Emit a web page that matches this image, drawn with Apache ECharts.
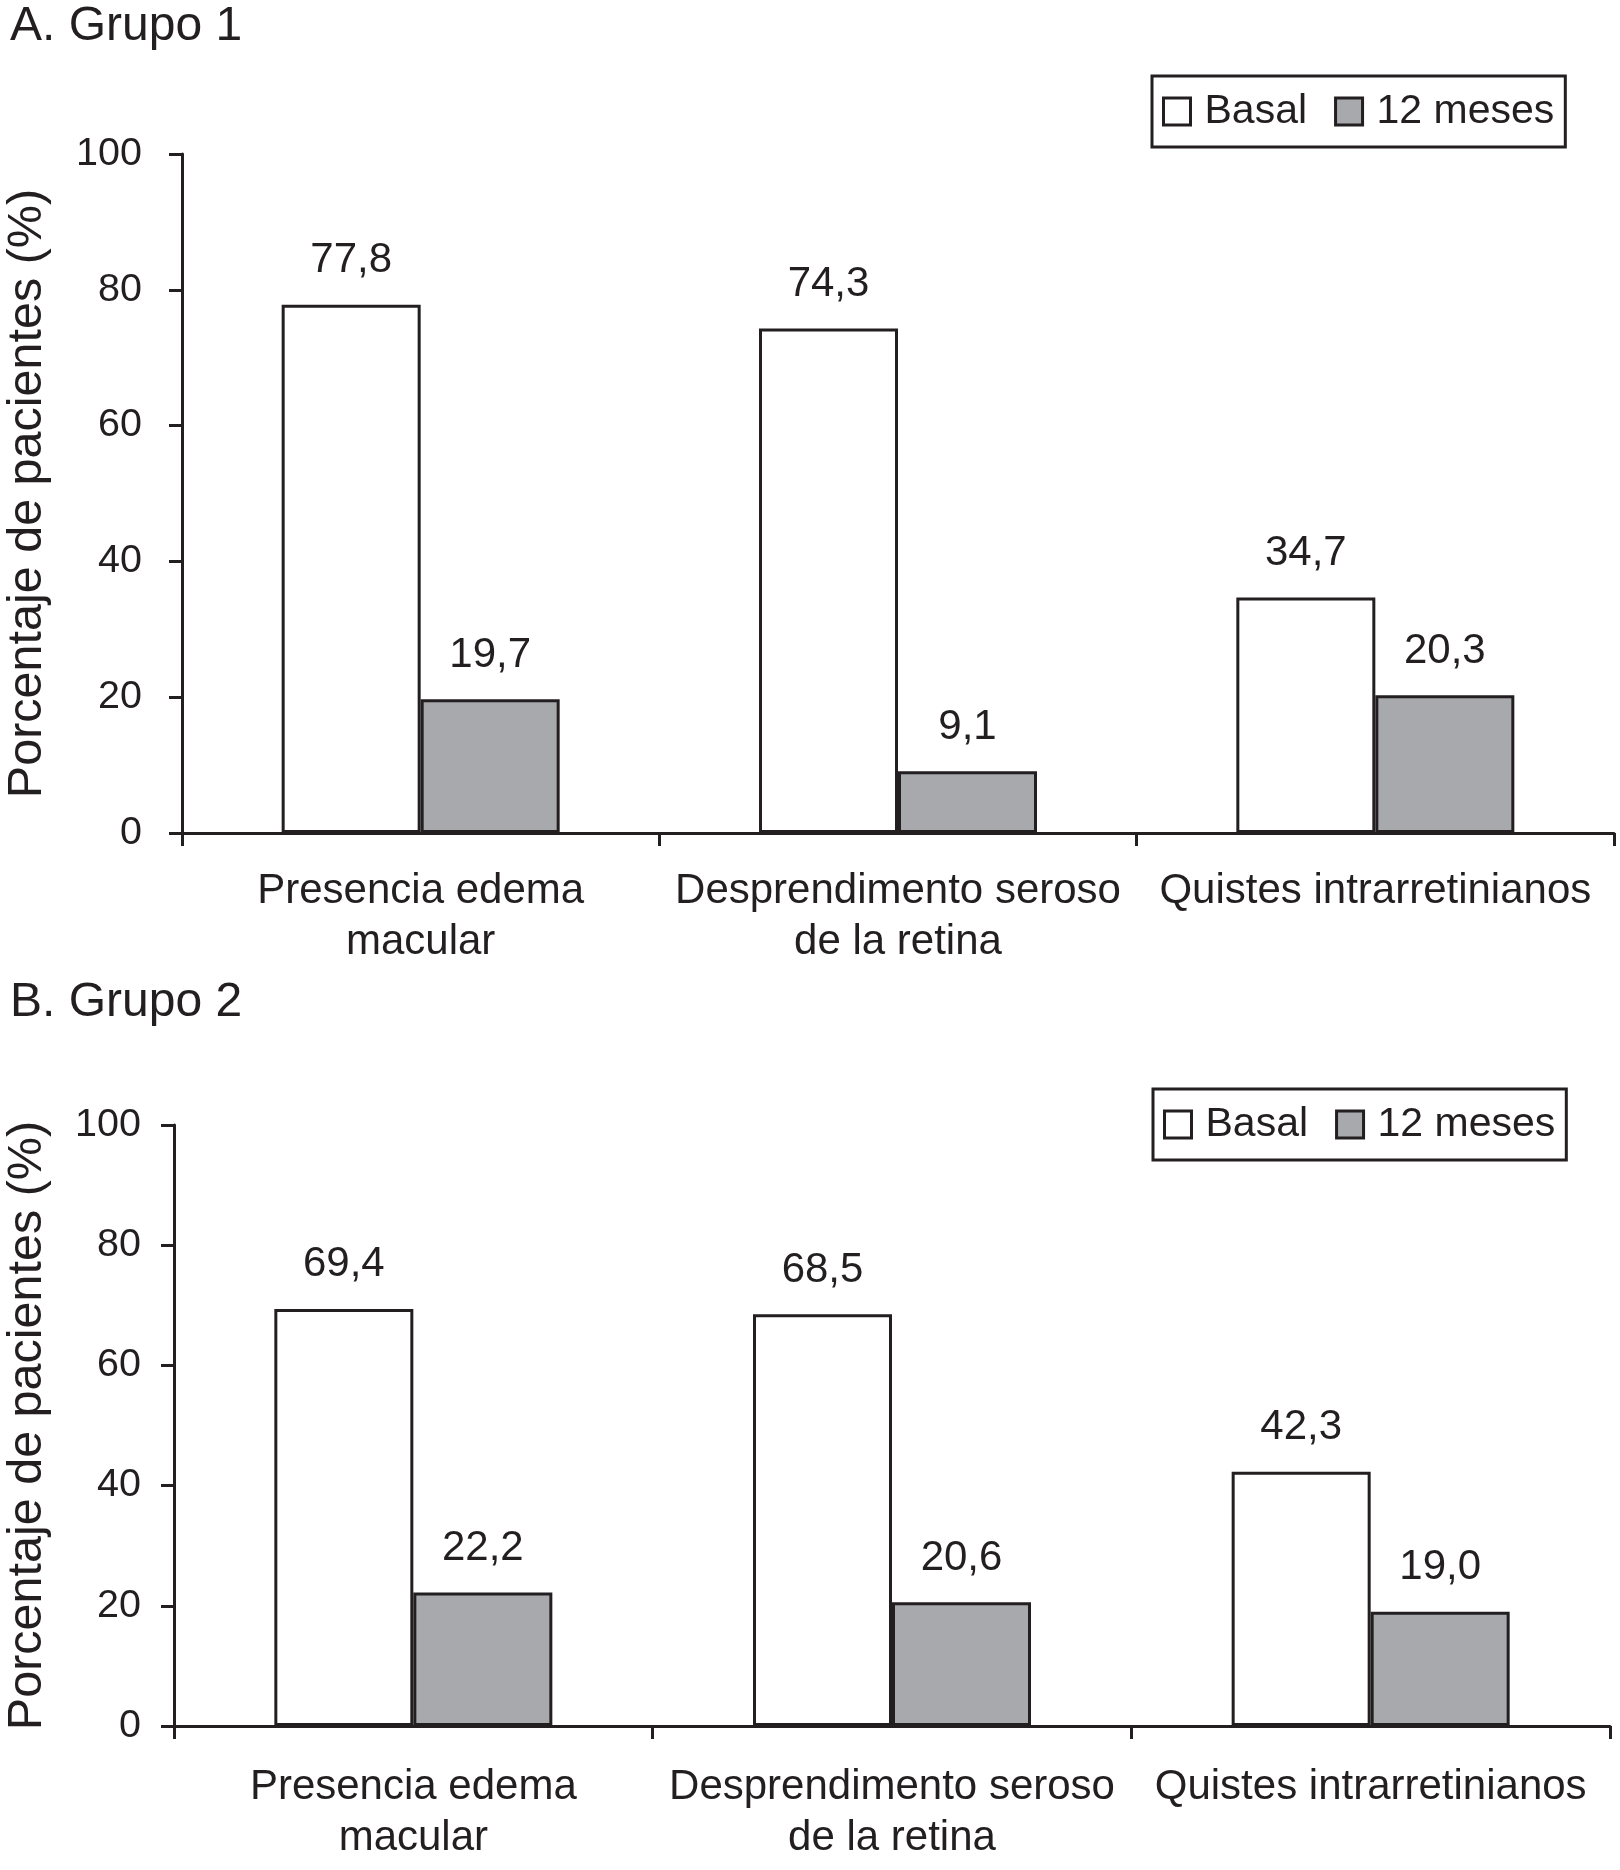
<!DOCTYPE html>
<html>
<head>
<meta charset="utf-8">
<script src="https://cdn.jsdelivr.net/npm/echarts@6/dist/echarts.min.js"></script>
<style>
  html, body { margin: 0; padding: 0; background: #ffffff; }
  #chart { width: 1620px; height: 1870px; }
</style>
</head>
<body>
<div id="chart"></div>
<script>
// ---- data ----
const categories = ['Presencia edema\nmacular', 'Desprendimento seroso\nde la retina', 'Quistes intrarretinianos'];
const seriesNames = ['Basal', '12 meses'];
const panelTitles = ['A. Grupo 1', 'B. Grupo 2'];
const grupo1Basal = [77.8, 74.3, 34.7];
const grupo1Meses12 = [19.7, 9.1, 20.3];
const grupo2Basal = [69.4, 68.5, 42.3];
const grupo2Meses12 = [22.2, 20.6, 19.0];
const yMin = 0, yMax = 100, yInterval = 20;
const yAxisTitle = 'Porcentaje de pacientes (%)';

// ---- styles ----
const FONT = '"Liberation Sans", Arial, Helvetica, sans-serif';
const INK = '#231f20';
const GRAY = '#a7a9ac';

const chart = echarts.init(document.getElementById('chart'), null, { renderer: 'canvas' });

function fmt(p) { return p.value.toFixed(1).replace('.', ','); }

function xAxisDef(gridIndex, margin) {
  return {
    type: 'category', gridIndex, data: categories,
    axisLine: { show: true, lineStyle: { color: INK, width: 3 } },
    axisTick: { show: true, length: 13, lineStyle: { color: INK, width: 3 } },
    axisLabel: { interval: 0, color: INK, fontFamily: FONT, fontSize: 42, lineHeight: 51, margin: margin },
    splitLine: { show: false }
  };
}
function yAxisDef(gridIndex, margin, nameGap) {
  return {
    type: 'value', gridIndex, min: yMin, max: yMax, interval: yInterval,
    name: yAxisTitle, nameLocation: 'middle', nameGap: nameGap,
    nameTextStyle: { color: INK, fontFamily: FONT, fontSize: 48.5 },
    axisLine: { show: true, lineStyle: { color: INK, width: 3 } },
    axisTick: { show: true, length: 13, lineStyle: { color: INK, width: 3 } },
    axisLabel: { color: INK, fontFamily: FONT, fontSize: 39.5, margin: margin, padding: [0, 0, 8, 0] },
    splitLine: { show: false }
  };
}
function barSeries(name, data, idx, fill) {
  return {
    type: 'bar', name, data, xAxisIndex: idx, yAxisIndex: idx,
    barWidth: 139, barGap: '0%',
    itemStyle: { color: fill, borderColor: INK, borderWidth: 3 },
    label: { show: true, position: 'top', distance: 23, formatter: fmt, color: INK, fontFamily: FONT, fontSize: 42 },
    emphasis: { disabled: true },
    animation: false
  };
}
function legendDef(left, top) {
  return {
    data: seriesNames, left, top, orient: 'horizontal',
    itemWidth: 27, itemHeight: 27, itemGap: 27, icon: 'rect',
    padding: [15, 11, 15, 10],
    borderColor: INK, borderWidth: 3, backgroundColor: '#ffffff',
    itemStyle: { borderColor: INK, borderWidth: 3 },
    textStyle: { color: INK, fontFamily: FONT, fontSize: 41, padding: [0, 0, 0, 9] },
    selectedMode: false
  };
}

chart.setOption({
  backgroundColor: '#ffffff',
  animation: false,
  title: [
    { text: panelTitles[0], left: 10, top: 3, padding: 0, textStyle: { color: INK, fontFamily: FONT, fontSize: 48, fontWeight: 'normal' } },
    { text: panelTitles[1], left: 10, top: 979, padding: 0, textStyle: { color: INK, fontFamily: FONT, fontSize: 48, fontWeight: 'normal' } }
  ],
  legend: [legendDef(1152, 76), legendDef(1153, 1089)],
  grid: [
    { left: 182, top: 154, width: 1432, height: 679, containLabel: false, outerBoundsMode: 'none' },
    { left: 174, top: 1125, width: 1436, height: 601, containLabel: false, outerBoundsMode: 'none' }
  ],
  xAxis: [xAxisDef(0, 33), xAxisDef(1, 36)],
  yAxis: [yAxisDef(0, 40, 130), yAxisDef(1, 33, 122)],
  series: [
    barSeries(seriesNames[0], grupo1Basal, 0, '#ffffff'),
    barSeries(seriesNames[1], grupo1Meses12, 0, GRAY),
    barSeries(seriesNames[0], grupo2Basal, 1, '#ffffff'),
    barSeries(seriesNames[1], grupo2Meses12, 1, GRAY)
  ]
});
</script>
</body>
</html>
